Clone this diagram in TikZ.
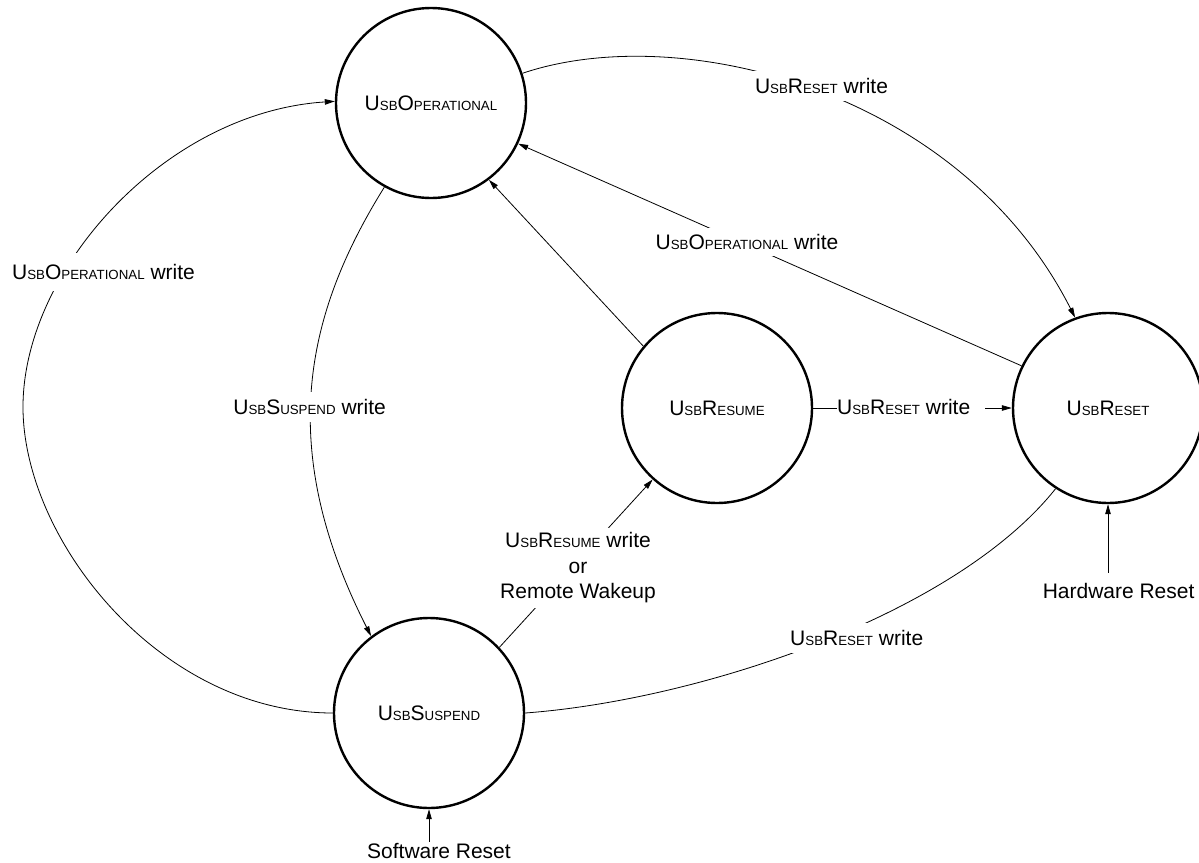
\documentclass[tikz,border=0pt]{standalone}
\usepackage{fontspec}
\setmainfont{Liberation Sans}
\usetikzlibrary{arrows.meta}
% small capitals made by hand, as in the register names
\newcommand\smc[1]{{\fontsize{13.3}{14}\selectfont #1}}
\newcommand\usbn[2]{U\smc{SB}#1\smc{#2}}
\begin{document}
\begin{tikzpicture}[x=1pt,y=-1pt,
  every node/.style={font=\fontsize{21}{25.5}\selectfont},
  state/.style={circle,draw,line width=2.4pt,minimum size=190pt,inner sep=0pt},
  conn/.style={line width=0.8pt},
  arr/.style={conn,-{Triangle[length=10pt,width=5.5pt]}},
  elabel/.style={fill=white,inner xsep=2pt,inner ysep=7pt}]
\useasboundingbox (0,0) rectangle (1199,862);

% states
\node[state] (op)  at (431,103) {\usbn{O}{PERATIONAL}};
\node[state] (res) at (717,408) {\usbn{R}{ESUME}};
\node[state] (rst) at (1108,408) {\usbn{R}{ESET}};
\node[state] (sus) at (429,713) {\usbn{S}{USPEND}};

% external reset sources
\node[anchor=base,inner ysep=1pt] (swr) at (439,858) {Software Reset};
\node[anchor=base,inner ysep=10pt] (hwr) at (1118.6,598) {Hardware Reset};

% transitions
\draw[arr] (op.18) .. controls (680,20) and (960,90) .. (rst.110.6);
\draw[arr] (rst.154.5) -- (op.335.8);
\draw[arr] (res.140.3) -- (op.307.2);
\draw[arr] (op.241.3) .. controls (304,316) and (276,449) .. (sus.127.6);
\draw[arr] (sus.180) .. controls (160,713) and (23,540) .. (23,407)
                     .. controls (23,270) and (165,112) .. (op.179);
\draw[arr] (sus.43.7) -- (res.228.7);
\draw[arr] (res.0) -- (rst.180);
\draw[conn] (sus.0) .. controls (700,700) and (955,615) .. (rst.237.4);
\draw[arr] (swr.north -| sus.south) -- (sus.south);
\draw[arr] (hwr.north -| rst.south) -- (rst.south);

% transition labels
\node[elabel] (l1) at (821.5,86) {\usbn{R}{ESET} write};
\node[elabel,inner ysep=6pt] (l2) at (747,242) {\usbn{O}{PERATIONAL} write};
\node[elabel,inner ysep=11pt] (l3) at (103.5,272) {\usbn{O}{PERATIONAL} write};
\node[elabel] (l4) at (309.6,407) {\usbn{S}{USPEND} write};
\node[elabel,anchor=west,inner xsep=0pt] (l5) at (837,407) {\usbn{R}{ESET} write\hspace*{15pt}};
\node[elabel,align=center,inner ysep=5pt] (l6) at (578,568) {\usbn{R}{ESUME} write\\or\\Remote Wakeup};
\node[elabel] (l7) at (856.7,638) {\usbn{R}{ESET} write};
\end{tikzpicture}
\end{document}
